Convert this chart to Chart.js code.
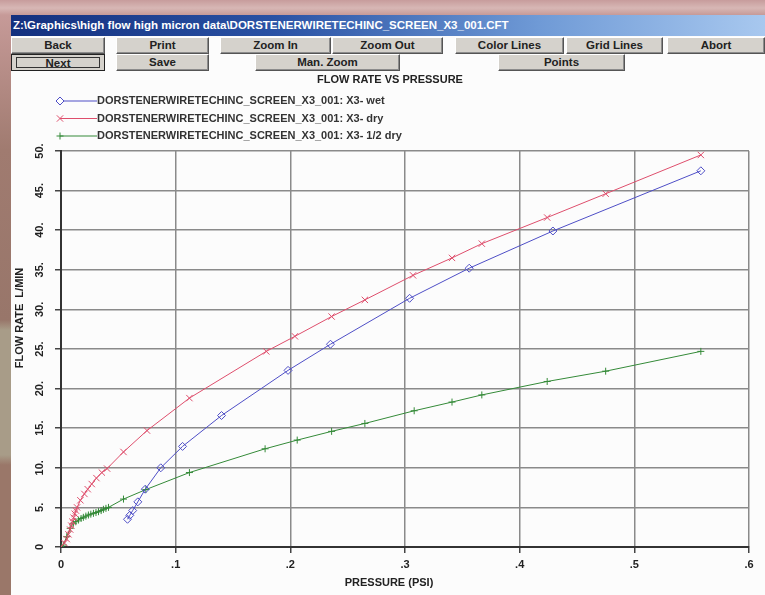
<!DOCTYPE html>
<html>
<head>
<meta charset="utf-8">
<script src="https://cdn.jsdelivr.net/npm/chart.js"></script>
<style>
  body { margin: 0; width: 765px; height: 595px; overflow: hidden; position: relative;
    background: linear-gradient(180deg, #c79c9c 0px, #d7b7b5 8px, #c69a98 15px, #a07b70 150px, #98766a 320px, #a89c88 330px, #a89c88 455px, #9a7769 465px, #9a7769 595px); }
  #win { position: absolute; left: 11px; top: 15px; width: 754px; height: 580px; background: #fcfcfc; }
  #bar { position: absolute; left: 11px; top: 15px; width: 754px; height: 21px;
    background: linear-gradient(90deg, #14307e 0%, #2a52a4 35%, #6f9ad6 70%, #a8c8ef 100%);
    color: #fff; font: bold 11.5px "Liberation Sans", Arial, sans-serif; line-height: 21px; padding-left: 2px; box-sizing: border-box; white-space: nowrap; }
  .btn { position: absolute; box-sizing: border-box; background: #d5d2cc;
    border-top: 1px solid #fff; border-left: 1px solid #fff; border-right: 1px solid #555; border-bottom: 1px solid #555;
    box-shadow: inset -1px -1px 0 #8c8c8c;
    font: bold 11.5px "Liberation Sans", Arial, sans-serif; color: #222; text-align: center; }
  .r1 { top: 37px; height: 17px; line-height: 15px; }
  .r2 { top: 54px; height: 17px; line-height: 15px; }
  #next { border: 1px solid #222; box-shadow: none; }
  #next span { position: absolute; left: 4px; right: 4px; top: 2px; bottom: 2px; border: 1px solid #333; line-height: 11px; }
  #wrap { position: absolute; left: 0; top: 72px; width: 765px; height: 523px; }
</style>
</head>
<body>
<div id="win"></div>
<div id="bar">Z:\Graphics\high flow high micron data\DORSTENERWIRETECHINC_SCREEN_X3_001.CFT</div>
<div class="btn r1" style="left:11px;width:94px">Back</div>
<div class="btn r1" style="left:116px;width:93px">Print</div>
<div class="btn r1" style="left:220px;width:111px">Zoom In</div>
<div class="btn r1" style="left:332px;width:111px">Zoom Out</div>
<div class="btn r1" style="left:455px;width:109px">Color Lines</div>
<div class="btn r1" style="left:566px;width:97px">Grid Lines</div>
<div class="btn r1" style="left:667px;width:98px">Abort</div>
<div class="btn r2" id="next" style="left:11px;width:94px"><span>Next</span></div>
<div class="btn r2" style="left:116px;width:93px">Save</div>
<div class="btn r2" style="left:255px;width:145px">Man. Zoom</div>
<div class="btn r2" style="left:498px;width:127px">Points</div>
<div id="wrap"><canvas id="c" width="765" height="523"></canvas></div>
<script>
const chartTitle = 'FLOW RATE VS PRESSURE';
const xTitle = 'PRESSURE (PSI)';
const yTitle = 'FLOW RATE  L/MIN';
const seriesNames = [
  'DORSTENERWIRETECHINC_SCREEN_X3_001: X3- wet',
  'DORSTENERWIRETECHINC_SCREEN_X3_001: X3- dry',
  'DORSTENERWIRETECHINC_SCREEN_X3_001: X3- 1/2 dry'
];

// pressure (psi) / flow rate (L/min)
const wetX = [0.058, 0.060, 0.0625, 0.067, 0.0735, 0.087, 0.106, 0.140, 0.198, 0.235, 0.304, 0.356, 0.429, 0.558];
const wetY = [3.5, 4.0, 4.6, 5.7, 7.3, 10.0, 12.7, 16.6, 22.3, 25.6, 31.4, 35.2, 39.9, 47.5];

const dryX = [0, 0.003, 0.005, 0.0065, 0.008, 0.009, 0.0099, 0.011, 0.012, 0.013, 0.014, 0.0169, 0.0204, 0.0233,
  0.0268, 0.0309, 0.0356, 0.0402, 0.0545, 0.075, 0.112, 0.179, 0.204, 0.236, 0.265, 0.307, 0.341, 0.367, 0.424, 0.475, 0.558];
const dryY = [0, 0.5, 1.0, 1.6, 2.2, 2.7, 3.2, 3.7, 4.2, 4.6, 5.0, 5.9, 6.7, 7.3,
  7.95, 8.7, 9.4, 9.9, 12.0, 14.7, 18.8, 24.7, 26.6, 29.1, 31.2, 34.3, 36.5, 38.3, 41.6, 44.6, 49.5];

const halfX = [0, 0.002, 0.005, 0.008, 0.0108, 0.013, 0.0152, 0.0175, 0.0195, 0.0217, 0.0239, 0.026, 0.0283, 0.0305,
  0.0327, 0.035, 0.037, 0.0392, 0.0414, 0.0545, 0.074, 0.112, 0.178, 0.206, 0.236, 0.265, 0.308, 0.341, 0.367, 0.424, 0.475, 0.558];
const halfY = [0, 0.25, 1.3, 2.36, 3.0, 3.2, 3.4, 3.6, 3.75, 3.9, 4.04, 4.15, 4.25, 4.35,
  4.46, 4.6, 4.76, 4.88, 5.0, 6.05, 7.25, 9.4, 12.4, 13.5, 14.6, 15.6, 17.2, 18.3, 19.2, 20.9, 22.2, 24.7];

const FONT = '"Liberation Sans", Arial, sans-serif';

function pts(xs, ys) {
  return xs.map((x, i) => ({ x: x, y: ys[i] }));
}

function series(label, xs, ys, color, style, r) {
  return {
    label: label,
    data: pts(xs, ys),
    showLine: true,
    borderColor: color,
    borderWidth: 1,
    backgroundColor: 'rgba(255,255,255,0)',
    pointStyle: style,
    pointRadius: r,
    pointBorderWidth: 1,
    pointBorderColor: color,
    tension: 0
  };
}

// title, axis titles and the line+marker legend of the old program
const decor = {
  id: 'decor',
  afterDraw(chart) {
    const ctx = chart.ctx;
    ctx.save();
    ctx.fillStyle = '#222';
    ctx.font = 'bold 11px ' + FONT;
    ctx.textAlign = 'center';
    ctx.textBaseline = 'middle';
    ctx.fillText(chartTitle, 390, 8);
    ctx.fillText(xTitle, 389, 511);
    ctx.save();
    ctx.translate(20, 246);
    ctx.rotate(-Math.PI / 2);
    ctx.fillText(yTitle, 0, 0);
    ctx.restore();

    ctx.font = 'bold 11px ' + FONT;
    ctx.textAlign = 'left';
    chart.data.datasets.forEach((ds, i) => {
      const y = 29 + 17.5 * i;
      ctx.strokeStyle = ds.borderColor;
      ctx.lineWidth = 1;
      ctx.beginPath();
      ctx.moveTo(60, y);
      ctx.lineTo(97, y);
      ctx.stroke();
      ctx.fillStyle = '#fff';
      Chart.helpers.drawPoint(ctx, { pointStyle: ds.pointStyle, radius: ds.pointRadius, borderWidth: 1, rotation: 0 }, 60, y);
      ctx.fillStyle = '#333';
      ctx.fillText(ds.label, 97, y);
    });
    ctx.restore();
  }
};

Chart.defaults.font.family = FONT;
Chart.defaults.font.size = 11;
Chart.defaults.font.weight = 'bold';
Chart.defaults.color = '#222';

new Chart(document.getElementById('c'), {
  type: 'scatter',
  data: {
    datasets: [
      series(seriesNames[0], wetX, wetY, 'rgb(78,78,198)', 'rectRot', 4),
      series(seriesNames[1], dryX, dryY, 'rgb(222,78,108)', 'crossRot', 4.5),
      series(seriesNames[2], halfX, halfY, 'rgb(52,138,56)', 'cross', 3.5)
    ]
  },
  options: {
    responsive: false,
    animation: false,
    layout: { padding: { top: 79, right: 16, left: 0, bottom: 0 } },
    plugins: { legend: { display: false }, tooltip: { enabled: false }, title: { display: false } },
    scales: {
      x: {
        type: 'linear', min: 0, max: 0.6,
        afterFit(s) { s.height = 48; },
        ticks: {
          stepSize: 0.1, maxRotation: 0, padding: 5, color: '#222',
          callback: v => v === 0 ? '0' : v.toFixed(1).replace(/^0/, '')
        },
        grid: { color: '#8a8a8a', lineWidth: 1.5, tickLength: 6, tickColor: '#444', tickWidth: 1.5 },
        border: { color: '#333', width: 2 }
      },
      y: {
        type: 'linear', min: 0, max: 50,
        afterFit(s) { s.width = 61; },
        ticks: {
          stepSize: 5, minRotation: 90, maxRotation: 90, crossAlign: 'center', padding: 7, color: '#222',
          callback: v => v === 0 ? '0' : v + '.'
        },
        grid: { color: '#8a8a8a', lineWidth: 1.5, tickLength: 6, tickColor: '#444', tickWidth: 1.5 },
        border: { color: '#333', width: 2 }
      }
    }
  },
  plugins: [decor]
});
</script>
</body>
</html>
